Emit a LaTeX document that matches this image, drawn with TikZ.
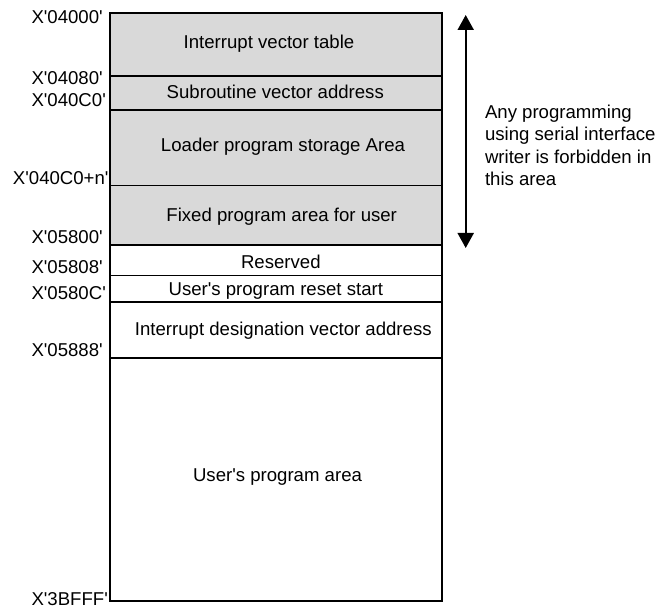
\documentclass[tikz,border=0pt]{standalone}
\usepackage{fontspec}
\setmainfont{Liberation Sans}[Ligatures=TeXOff]
\usetikzlibrary{arrows.meta}
\definecolor{memgray}{RGB}{217,217,217}
\begin{document}
\begin{tikzpicture}[x=1pt,y=-1pt,
  every node/.style={inner sep=0pt,outer sep=0pt,font=\fontsize{18.6}{22.5}\selectfont},
  sect/.style={draw=black,line width=1.6pt},
  addr/.style={anchor=base west},
  addrr/.style={anchor=base east},
  lbl/.style={anchor=base}]
\useasboundingbox (0,0) rectangle (660,609);
% shaded protected area
\fill[memgray] (110,13.5) rectangle (441.5,245);
% section lines
\draw[sect] (110,76) -- (441.5,76);
\draw[sect] (110,110) -- (441.5,110);
\draw[sect] (110,185.5) -- (441.5,185.5);
\draw[sect] (110,245) -- (441.5,245);
\draw[sect] (110,275.5) -- (441.5,275.5);
\draw[sect] (110,302) -- (441.5,302);
\draw[sect] (110,358) -- (441.5,358);
% outer frame
\draw[line width=2pt] (110,13.5) rectangle (441.5,601);
% section texts
\node[lbl] (ivt) at (269,48.3) {Interrupt vector table};
\node[lbl] (sva) at (275.3,98.2) {Subroutine vector address};
\node[lbl] (lps) at (283,151.5) {Loader program storage Area};
\node[lbl] (fpa) at (281.7,221.5) {Fixed program area for user};
\node[lbl] (res) at (280.8,268.8) {Reserved};
\node[lbl] (urs) at (275.8,295.6) {User's program reset start};
\node[lbl] (idv) at (283.3,335.8) {Interrupt designation vector address};
\node[lbl] (upa) at (277.5,481.5) {User's program area};
% address labels
\node[addr] (a1) at (31.5,23.2) {X'04000'};
\node[addr] (a2) at (31.5,84.8) {X'04080'};
\node[addr] (a3) at (31.5,106.5) {X'040C0'};
\node[addrr] (a4) at (108.5,184.8) {X'040C0+n'};
\node[addr] (a5) at (31.5,243.2) {X'05800'};
\node[addr] (a6) at (31.5,273.2) {X'05808'};
\node[addr] (a7) at (31.5,299.8) {X'0580C'};
\node[addr] (a8) at (31.5,356.5) {X'05888'};
\node[addr] (a9) at (31.5,605.8) {X'3BFFF'};
% protected-area arrow
\coordinate (atop) at (465.7,15);
\coordinate (abot) at (465.7,248);
\draw[line width=2pt,{Triangle[length=15pt,width=16pt]}-{Triangle[length=15pt,width=16pt]}] (atop) -- (abot);
\node[anchor=base west,align=left] (note) at (485,186) {Any programming\\using serial interface\\writer is forbidden in\\this area};
\end{tikzpicture}
\end{document}
